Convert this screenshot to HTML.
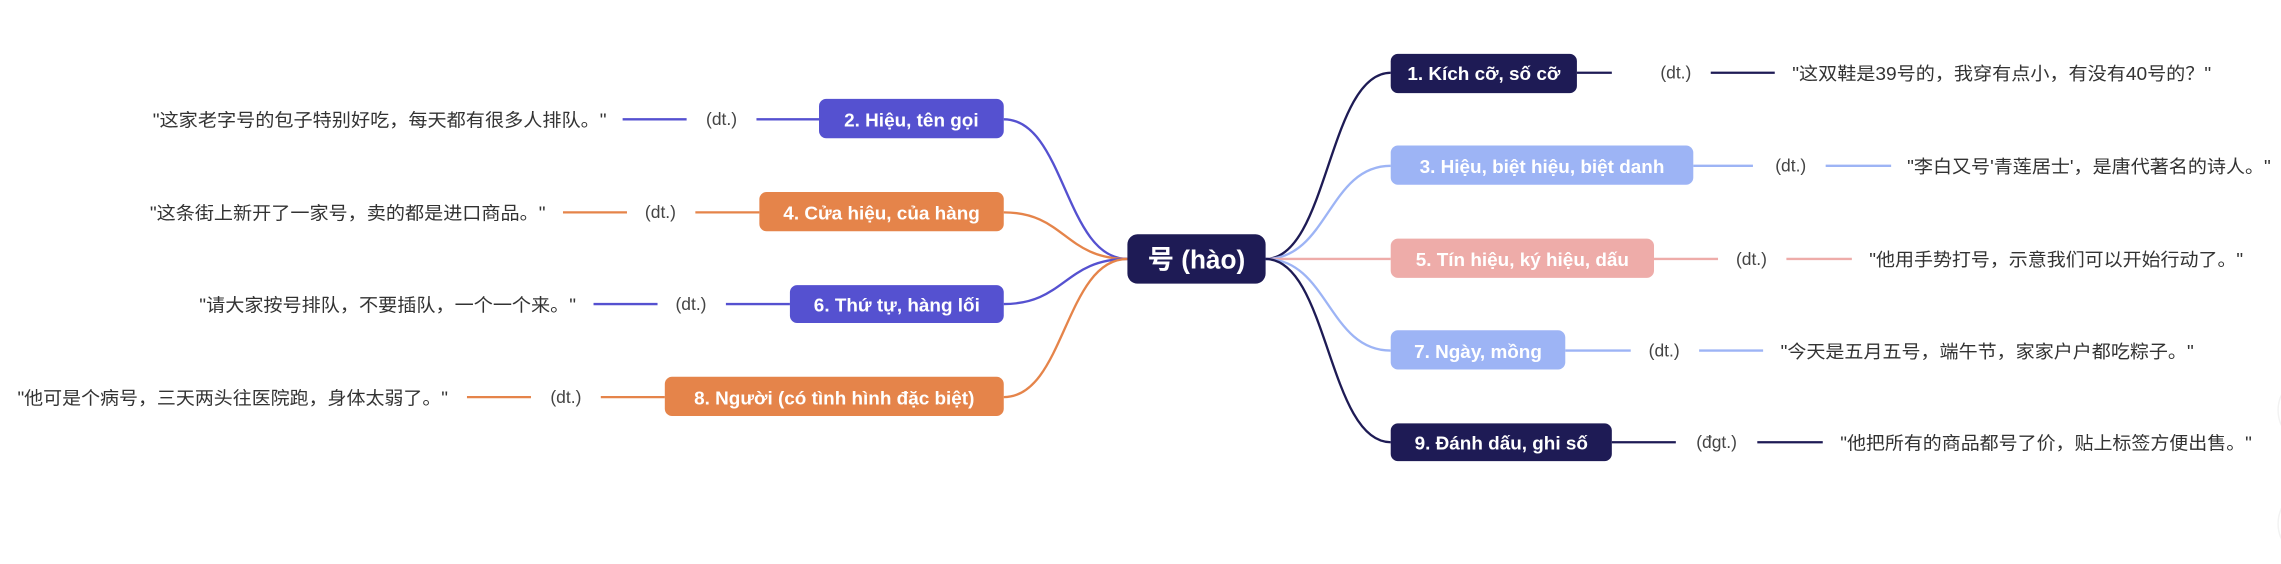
<!DOCTYPE html>
<html><head><meta charset="utf-8"><style>
html,body{margin:0;padding:0;background:#fff;}
svg{display:block;}
text{font-family:"Liberation Sans","Noto Sans CJK SC",sans-serif;}
.q{font-size:12.5px;fill:#333;}
.p{font-size:12px;fill:#444;text-anchor:middle;}
.n{font-size:13px;font-weight:bold;fill:#fff;text-anchor:middle;}
</style></head><body>
<svg width="2281" height="564" viewBox="0 0 1568 387.7" preserveAspectRatio="none" xmlns="http://www.w3.org/2000/svg">
<g fill="none" stroke-width="1.6">
<path d="M870,178 C913,178 913,50 956,50" stroke="#1e1b55"/>
<path d="M870,178 C913,178 913,114 956,114" stroke="#9db4f5"/>
<path d="M870,178 L956,178" stroke="#eeaca9"/>
<path d="M870,178 C913,178 913,241 956,241" stroke="#9db4f5"/>
<path d="M870,178 C913,178 913,304 956,304" stroke="#1e1b55"/>
<path d="M775,178 C732,178 732,82 690,82" stroke="#5551d0"/>
<path d="M775,178 C732,178 732,146 690,146" stroke="#e5844a"/>
<path d="M775,178 C732,178 732,209 690,209" stroke="#5551d0"/>
<path d="M775,178 C732,178 732,273 690,273" stroke="#e5844a"/>
<path d="M1084,50 H1108 M1176,50 H1220" stroke="#1e1b55"/>
<path d="M1164,114 H1205 M1255,114 H1300" stroke="#9db4f5"/>
<path d="M1137,178 H1181 M1228,178 H1273" stroke="#eeaca9"/>
<path d="M1076,241 H1121 M1168,241 H1212" stroke="#9db4f5"/>
<path d="M1108,304 H1152 M1208,304 H1253" stroke="#1e1b55"/>
<path d="M428,82 H472 M520,82 H563" stroke="#5551d0"/>
<path d="M387,146 H431 M478,146 H522" stroke="#e5844a"/>
<path d="M408,209 H452 M499,209 H543" stroke="#5551d0"/>
<path d="M321,273 H365 M413,273 H457" stroke="#e5844a"/>
</g>
<rect x="775" y="161" width="95" height="34" rx="7" fill="#1e1b55"/>
<text x="822.5" y="184.5" text-anchor="middle" font-size="18" font-weight="bold" fill="#fff">号 (hào)</text>
<rect x="956" y="37" width="128" height="27" rx="5" fill="#1e1b55"/>
<text class="n" x="1020" y="55">1. Kích cỡ, số cỡ</text>
<rect x="956" y="100" width="208" height="27" rx="5" fill="#9db4f5"/>
<text class="n" x="1060" y="119">3. Hiệu, biệt hiệu, biệt danh</text>
<rect x="956" y="164" width="181" height="27" rx="5" fill="#eeaca9"/>
<text class="n" x="1046.5" y="183">5. Tín hiệu, ký hiệu, dấu</text>
<rect x="956" y="227" width="120" height="27" rx="5" fill="#9db4f5"/>
<text class="n" x="1016" y="246">7. Ngày, mồng</text>
<rect x="956" y="291" width="152" height="26" rx="5" fill="#1e1b55"/>
<text class="n" x="1032" y="309">9. Đánh dấu, ghi số</text>
<rect x="563" y="68" width="127" height="27" rx="5" fill="#5551d0"/>
<text class="n" x="626.5" y="87">2. Hiệu, tên gọi</text>
<rect x="522" y="132" width="168" height="27" rx="5" fill="#e5844a"/>
<text class="n" x="606" y="151">4. Cửa hiệu, của hàng</text>
<rect x="543" y="196" width="147" height="26" rx="5" fill="#5551d0"/>
<text class="n" x="616.5" y="214">6. Thứ tự, hàng lối</text>
<rect x="457" y="259" width="233" height="27" rx="5" fill="#e5844a"/>
<text class="n" x="573.5" y="278">8. Người (có tình hình đặc biệt)</text>
<text class="p" x="1152" y="54">(dt.)</text>
<text class="p" x="1231" y="118">(dt.)</text>
<text class="p" x="1204" y="182">(dt.)</text>
<text class="p" x="1144" y="245">(dt.)</text>
<text class="p" x="1180" y="308">(đgt.)</text>
<text class="p" x="496" y="86">(dt.)</text>
<text class="p" x="454" y="150">(dt.)</text>
<text class="p" x="475" y="213">(dt.)</text>
<text class="p" x="389" y="277">(dt.)</text>
<text class="q" x="1232" y="55" textLength="288" lengthAdjust="spacingAndGlyphs">"这双鞋是39号的，我穿有点小，有没有40号的？"</text>
<text class="q" x="1311" y="119" textLength="250" lengthAdjust="spacingAndGlyphs">"李白又号'青莲居士'，是唐代著名的诗人。"</text>
<text class="q" x="1285" y="183" textLength="257" lengthAdjust="spacingAndGlyphs">"他用手势打号，示意我们可以开始行动了。"</text>
<text class="q" x="1224" y="246" textLength="284" lengthAdjust="spacingAndGlyphs">"今天是五月五号，端午节，家家户户都吃粽子。"</text>
<text class="q" x="1265" y="309" textLength="283" lengthAdjust="spacingAndGlyphs">"他把所有的商品都号了价，贴上标签方便出售。"</text>
<text class="q" x="105" y="87" textLength="312" lengthAdjust="spacingAndGlyphs">"这家老字号的包子特别好吃，每天都有很多人排队。"</text>
<text class="q" x="103" y="151" textLength="272" lengthAdjust="spacingAndGlyphs">"这条街上新开了一家号，卖的都是进口商品。"</text>
<text class="q" x="137" y="214" textLength="259" lengthAdjust="spacingAndGlyphs">"请大家按号排队，不要插队，一个一个来。"</text>
<text class="q" x="12" y="278" textLength="296" lengthAdjust="spacingAndGlyphs">"他可是个病号，三天两头往医院跑，身体太弱了。"</text>
<circle cx="1590" cy="282" r="24" fill="#fff" stroke="#f2f2f2"/>
<circle cx="1590" cy="360" r="24" fill="#fff" stroke="#f2f2f2"/>
</svg>
</body></html>
